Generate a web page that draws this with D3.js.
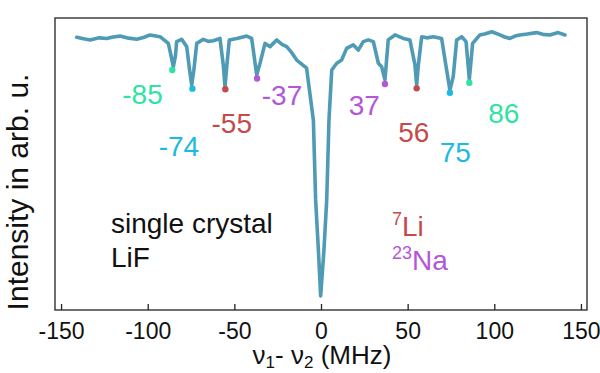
<!DOCTYPE html>
<meta charset="utf-8">
<style>
  body { margin: 0; background: #fff; }
  text { font-family: "Liberation Sans", Arial, sans-serif; }
</style>
<body>
<script src="https://cdnjs.cloudflare.com/ajax/libs/d3/7.8.5/d3.min.js"></script>
<script>

// spectrum trace, frequency difference (MHz) and intensity (arb. u.)
var freq = [-141, -137, -133.3, -128, -123.6, -120, -116, -111, -106.3, -102, -98.7, -92.9, -88.1, -86.5, -85.2, -84, -83.3, -80.4, -77.5,
  -75.8, -74.6, -73.4, -71.7, -67.9, -65, -62.1, -58.3, -56.4, -55.4, -54.3, -52.9, -48.6, -45, -42.9, -40, -37.1,
  -35.2, -32.3, -29.4, -25.6, -22.5, -19.8, -17, -14, -8.3, -4.4, -3.1, -1.5, -0.2, 1.7, 3.3, 4.6, 6.2, 9.1, 11.9,
  14.8, 18.6, 21.5, 24.4, 27.3, 30.2, 33.1, 35, 36.9, 38.8, 42.7, 47.5, 51.3, 54.2, 55.2, 56.2, 58.1, 61,
  64.8, 69.6, 72.5, 74.4, 76.3, 78.3, 81.2, 83.7, 85.6, 87.5, 91.7, 95, 98.5, 103.3, 106, 109, 112, 114.8, 119, 124.4,
  128, 132.1, 136.9, 140.8];
var inten = [93.4, 92.9, 92.5, 93.2, 93.0, 93.5, 93.8, 93.1, 92.7, 93.4, 94.2, 93.6, 91.3, 87, 83.3, 87, 91.9, 92.7, 90.2,
  82, 77.1, 82, 91.3, 92.7, 92.0, 92.2, 93.0, 84, 76.5, 84, 92.5, 93.0, 93.5, 93.8, 93.0, 80.5,
  84.5, 91.3, 90.2, 92.5, 91.0, 90.2, 88.2, 85.6, 82.8, 65, 37.7, 20.5, 4.8, 20.5, 37.7, 65, 82.2, 84.5, 85.6,
  89.6, 90.8, 89, 91.9, 92.5, 91.9, 84.5, 83.3, 78.8, 92.5, 94.2, 93.0, 92.5, 84, 77.1, 84, 93.6, 93.2,
  93.6, 93.0, 82.2, 75.3, 79.9, 92.5, 93.6, 91.9, 79.0, 91.3, 94.2, 94.6, 95.3, 94.2, 93.5, 93.0, 93.8, 94.2, 94.5, 95.0,
  94.4, 94.2, 95.0, 94.2];

// marked lines
var peakFreq = [-85.8, -74.2, -55.2, -36.9, 36.9, 55.2, 74.4, 85.6];
var peakInten = [82.2, 75.8, 75.6, 79.3, 77.4, 75.9, 74.4, 77.8];
var peakLabels = ["-85", "-74", "-55", "-37", "37", "56", "75", "86"];
var peakColors = ["#2fe3a3", "#1cb9e3", "#c44b4b", "#b357d9", "#b357d9", "#c44b4b", "#1cb9e3", "#2fe3a3"];
// label positions in data units
var labelFreq = [-103, -82, -51.5, -22.5, 25, 53.5, 77.5, 105.5];
var labelInten = [70.5, 52.7, 60.6, 70.2, 66.8, 57.5, 50.7, 63.9];

var xTicks = [-150, -100, -50, 0, 50, 100, 150];

var width = 600, height = 373;
var mLeft = 55, mRight = 587, mTop = 18, mBottom = 310;

var svg = d3.select("body").append("svg")
    .attr("width", width)
    .attr("height", height);

var x = d3.scaleLinear().domain([-153.5, 153.5]).range([mLeft, mRight]);
var y = d3.scaleLinear().domain([0, 100]).range([mBottom, mTop]);

var line = d3.line()
    .x(function(d) { return x(d[0]); })
    .y(function(d) { return y(d[1]); });

svg.append("path")
    .datum(d3.zip(freq, inten))
    .attr("d", line)
    .attr("fill", "none")
    .attr("stroke", "#4f9bb6")
    .attr("stroke-width", 3.6)
    .attr("stroke-linejoin", "round")
    .attr("stroke-linecap", "round");

// markers and labels
svg.selectAll("circle.pk")
    .data(peakFreq)
    .enter().append("circle")
    .attr("class", "pk")
    .attr("cx", function(d) { return x(d); })
    .attr("cy", function(d, i) { return y(peakInten[i]); })
    .attr("r", 3.2)
    .attr("fill", function(d, i) { return peakColors[i]; });

svg.selectAll("text.pk")
    .data(peakLabels)
    .enter().append("text")
    .attr("class", "pk")
    .attr("x", function(d, i) { return x(labelFreq[i]); })
    .attr("y", function(d, i) { return y(labelInten[i]); })
    .attr("text-anchor", "middle")
    .attr("font-size", 28)
    .attr("fill", function(d, i) { return peakColors[i]; })
    .text(function(d) { return d; });

// frame
svg.append("rect")
    .attr("x", mLeft).attr("y", mTop)
    .attr("width", mRight - mLeft).attr("height", mBottom - mTop)
    .attr("fill", "none")
    .attr("stroke", "#222")
    .attr("stroke-width", 1.3);

var xAxis = svg.append("g")
    .attr("transform", "translate(0," + mBottom + ")")
    .call(d3.axisBottom(x).tickValues(xTicks).tickFormat(function(d) { return String(d); })
      .tickSizeInner(-6).tickSizeOuter(0));
xAxis.select(".domain").remove();
xAxis.selectAll(".tick line").attr("stroke", "#222").attr("stroke-width", 1.3);
xAxis.selectAll(".tick text")
    .attr("y", 29).attr("dy", 0)
    .attr("font-size", 23)
    .attr("font-family", "Liberation Sans, Arial, sans-serif")
    .attr("fill", "#111");

// axis titles
var xt = svg.append("text")
    .attr("x", 322).attr("y", 364)
    .attr("text-anchor", "middle")
    .attr("font-size", 26)
    .attr("fill", "#111");
xt.append("tspan").text("ν");
xt.append("tspan").attr("font-size", 17).attr("dy", 4).text("1");
xt.append("tspan").attr("dy", -4).text("- ν");
xt.append("tspan").attr("font-size", 17).attr("dy", 4).text("2");
xt.append("tspan").attr("dy", -4).text(" (MHz)");

svg.append("text")
    .attr("transform", "translate(28,192) rotate(-90)")
    .attr("text-anchor", "middle")
    .attr("font-size", 30)
    .attr("fill", "#111")
    .text("Intensity in arb. u.");

// sample notes
svg.append("text").attr("x", 111).attr("y", 233).attr("font-size", 28).attr("fill", "#111").text("single crystal");
svg.append("text").attr("x", 111).attr("y", 267).attr("font-size", 28).attr("fill", "#111").text("LiF");

var li = svg.append("text").attr("x", 392).attr("y", 236).attr("font-size", 28).attr("fill", "#c44b4b");
li.append("tspan").attr("font-size", 18).attr("dy", -11).text("7");
li.append("tspan").attr("dy", 11).text("Li");

var na = svg.append("text").attr("x", 392).attr("y", 270).attr("font-size", 28).attr("fill", "#b357d9");
na.append("tspan").attr("font-size", 18).attr("dy", -11).text("23");
na.append("tspan").attr("dy", 11).text("Na");

</script>
</body>
